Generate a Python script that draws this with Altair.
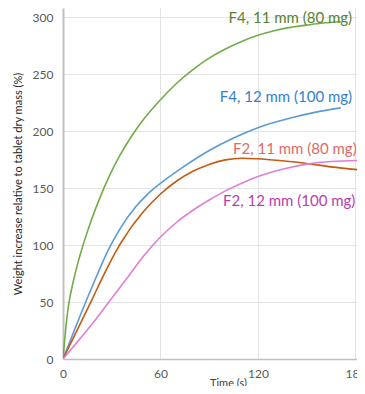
import altair as alt
import pandas as pd

series = ["F4, 11 mm (80 mg)", "F4, 12 mm (100 mg)", "F2, 11 mm (80 mg)", "F2, 12 mm (100 mg)"]
line_colors = ["#70ad47", "#5b9bd5", "#c55a11", "#e07fd6"]
text_colors = ["#548235", "#2f80d4", "#e06a66", "#b83eae"]

f4_11_t = [0, 1, 2, 3, 4, 6, 8, 10, 13, 17, 22, 28, 35, 42, 50, 59, 70, 80, 90, 100, 110, 120, 130, 140, 150, 160, 171]
f4_11_v = [0, 16, 31, 43, 52, 66, 78, 88.6, 103, 120, 139, 159, 178.6, 195, 211, 226, 242, 254, 264, 272, 278.7, 284, 288, 291, 293, 294.8, 296]

f4_12_t = [0, 5, 10, 14, 20, 28, 35, 45, 52, 59, 75, 90, 105, 120, 140, 155, 171]
f4_12_v = [0, 18, 36, 50, 70.4, 96, 114, 134, 144.5, 153, 169.5, 183, 194, 203, 211.4, 216.4, 220.4]

f2_11_t = [0, 10, 18, 25, 34, 38, 42, 46, 50, 59, 70, 80, 90, 100, 110, 120, 135, 150, 165, 184]
f2_11_v = [0, 29, 52.6, 73.6, 98, 107, 115.5, 123, 130, 143.5, 156.2, 164.7, 170.7, 174.7, 176.2, 175.7, 173.9, 171.6, 168.6, 165.8]

f2_12_t = [0, 10, 20, 28, 40, 50, 60, 70, 80, 90, 100, 110, 120, 135, 150, 165, 184]
f2_12_v = [0, 17, 34.5, 49.5, 72, 91, 107, 120, 130.5, 139.5, 147.5, 154.3, 160.1, 166.5, 171, 173.3, 174.2]

label_t = [178.0, 178.0, 180.8, 180.0]
label_v = [299.5, 230.0, 184.0, 138.6]

x_ticks = [0, 60, 120, 180]
y_ticks = [0, 50, 100, 150, 200, 250, 300]

rows = []
for name, ts, vs in [
    (series[0], f4_11_t, f4_11_v),
    (series[1], f4_12_t, f4_12_v),
    (series[2], f2_11_t, f2_11_v),
    (series[3], f2_12_t, f2_12_v),
]:
    for t, v in zip(ts, vs):
        rows.append({"series": name, "t": t, "v": v})
df = pd.DataFrame(rows)

labels = pd.DataFrame({"series": series, "t": label_t, "v": label_v, "tcolor": text_colors})

FONT = "Lato"
xscale = alt.Scale(domain=[0, 181], nice=False, zero=False)
yscale = alt.Scale(domain=[0, 308], nice=False)

lines = alt.Chart(df).mark_line(strokeWidth=1.6, interpolate="monotone", clip=True).encode(
    x=alt.X("t:Q", scale=xscale,
            axis=alt.Axis(values=x_ticks, title="Time (s)", labelFlush=False, grid=True,
                          gridColor="#e4e4e4", domainColor="#bfbfbf", domainWidth=1.5,
                          ticks=False, labelColor="#595959", labelFontSize=12, labelFont=FONT,
                          labelPadding=9, titleFont=FONT, titleFontSize=11, titleFontWeight="normal",
                          titleColor="#404040", titleX=165, titleY=24, titleBaseline="middle")),
    y=alt.Y("v:Q", scale=yscale,
            axis=alt.Axis(values=y_ticks, title="Weight increase relative to tablet dry mass (%)",
                          grid=True, gridColor="#e4e4e4", domainColor="#bfbfbf", domainWidth=2,
                          ticks=False, labelColor="#595959", labelFontSize=12, labelFont=FONT,
                          labelPadding=10, titleFont=FONT, titleFontSize=11, titleFontWeight="normal",
                          titleColor="#262626", titleX=-45, titleBaseline="middle")),
    color=alt.Color("series:N", scale=alt.Scale(domain=series, range=line_colors), legend=None),
    detail="series:N",
)

texts = alt.Chart(labels).mark_text(align="right", baseline="middle", fontSize=15, font=FONT).encode(
    x=alt.X("t:Q", scale=xscale),
    y=alt.Y("v:Q", scale=yscale),
    text="series:N",
    color=alt.Color("tcolor:N", scale=None),
)

chart = alt.layer(lines, texts).properties(
    width=294, height=351,
    autosize=alt.AutoSizeParams(type="none"),
    padding={"left": 55, "top": 0, "right": 0, "bottom": 27},
).configure_view(stroke=None)

chart.save("out.html", embed_options={"renderer": "svg", "actions": False})
